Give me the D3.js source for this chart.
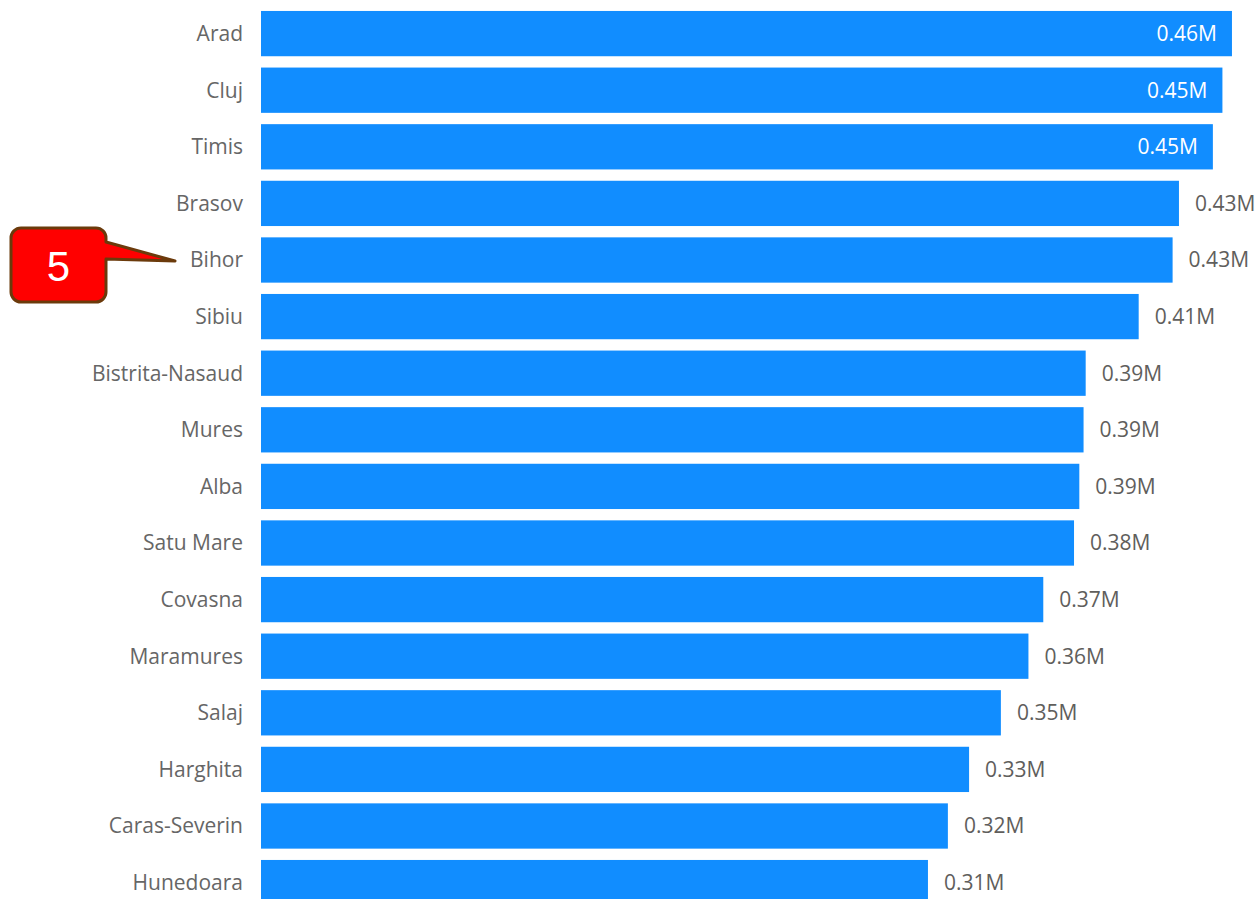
<!DOCTYPE html>
<html>
<head>
<meta charset="utf-8">
<script src="https://cdn.jsdelivr.net/npm/d3@7"></script>
<style>
  body { margin: 0; background: #fff; }
  svg { display: block; }
</style>
</head>
<body>
<svg id="chart" width="1258" height="899"></svg>
<script>
// counties and values (millions)
const counties = ['Arad', 'Cluj', 'Timis', 'Brasov', 'Bihor', 'Sibiu', 'Bistrita-Nasaud', 'Mures',
    'Alba', 'Satu Mare', 'Covasna', 'Maramures', 'Salaj', 'Harghita', 'Caras-Severin', 'Hunedoara'];
const values = [0.458, 0.4535, 0.449, 0.433, 0.430, 0.414, 0.389, 0.388,
    0.386, 0.3835, 0.369, 0.362, 0.349, 0.334, 0.324, 0.3146];
const calloutText = '5';
const calloutTarget = 'Bihor';

const W = 1258, H = 899;
const font = '"Open Sans", "Noto Sans", sans-serif';
const fmt = d => d3.format('.2f')(d) + 'M';

let svg = d3.select('#chart');

let y = d3.scaleBand()
    .domain(counties)
    .range([5.3, 5.3 + 16 * 56.6])
    .paddingInner(0.2)
    .paddingOuter(0.1);

let x = d3.scaleLinear()
    .domain([0, 0.5])
    .range([261, 261 + 2120 * 0.5]);

// bars
svg.append('g')
    .selectAll('rect')
    .data(counties)
    .join('rect')
    .attr('x', x(0))
    .attr('y', d => y(d))
    .attr('width', (d, i) => x(values[i]) - x(0))
    .attr('height', y.bandwidth())
    .attr('fill', '#118DFF');

// category labels
svg.append('g')
    .selectAll('text')
    .data(counties)
    .join('text')
    .attr('x', x(0) - 18)
    .attr('y', d => y(d) + y.bandwidth() / 2)
    .attr('dy', '0.35em')
    .attr('text-anchor', 'end')
    .attr('fill', '#666')
    .style('font-family', font)
    .style('font-size', '21px')
    .text(d => d);

// value labels, inside the bar when they would not fit outside
let vl = svg.append('g')
    .selectAll('text')
    .data(counties)
    .join('text')
    .attr('y', d => y(d) + y.bandwidth() / 2)
    .attr('dy', '0.35em')
    .style('font-family', font)
    .style('font-size', '21px')
    .text((d, i) => fmt(values[i]));

vl.each(function(d, i) {
    let t = d3.select(this);
    let w = this.getComputedTextLength();
    let end = x(values[i]);
    if (end + 16 + w > W + 2) {
        t.attr('x', end - 15).attr('text-anchor', 'end').attr('fill', '#fff');
    } else {
        t.attr('x', end + 16).attr('text-anchor', 'start').attr('fill', '#605E5C');
    }
});

// callout
let cy = y(calloutTarget) + y.bandwidth() / 2;
let bx0 = 11, bx1 = 106, by0 = cy - 32, by1 = cy + 42, r = 10;
let tipX = 175, tipY = cy + 1;
let p = d3.path();
p.moveTo(bx0 + r, by0);
p.lineTo(bx1 - r, by0);
p.arcTo(bx1, by0, bx1, by0 + r, r);
p.lineTo(bx1, by0 + 14);
p.lineTo(tipX, tipY);
p.lineTo(bx1, by0 + 31);
p.lineTo(bx1, by1 - r);
p.arcTo(bx1, by1, bx1 - r, by1, r);
p.lineTo(bx0 + r, by1);
p.arcTo(bx0, by1, bx0, by1 - r, r);
p.lineTo(bx0, by0 + r);
p.arcTo(bx0, by0, bx0 + r, by0, r);
p.closePath();

svg.append('path')
    .attr('d', p.toString())
    .attr('fill', '#FF0000')
    .attr('stroke', '#6B3A0B')
    .attr('stroke-width', 3)
    .attr('stroke-linejoin', 'round');

svg.append('text')
    .attr('x', (bx0 + bx1) / 2)
    .attr('y', (by0 + by1) / 2 + 1)
    .attr('dy', '0.36em')
    .attr('text-anchor', 'middle')
    .attr('fill', '#fff')
    .style('font-family', '"Liberation Sans", sans-serif')
    .style('font-size', '42px')
    .text(calloutText);
</script>
</body>
</html>
